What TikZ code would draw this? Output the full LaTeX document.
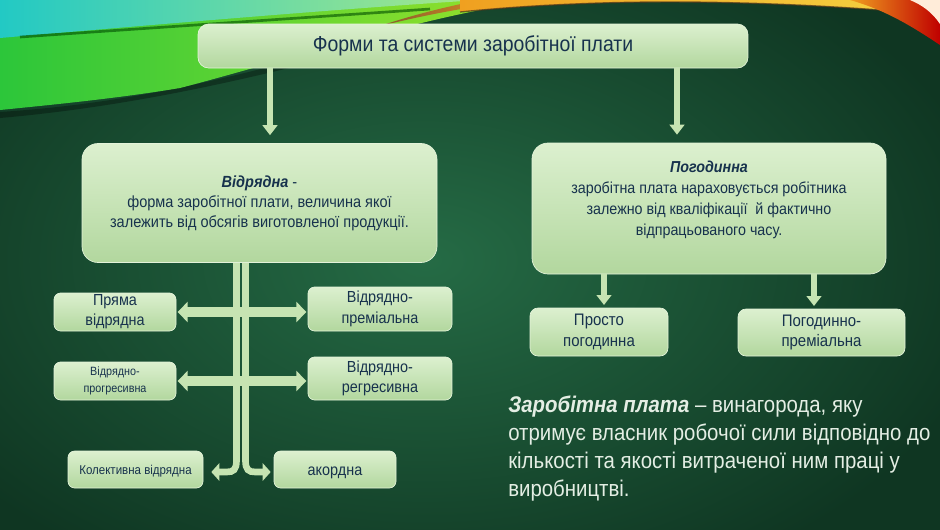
\documentclass[tikz,border=0pt]{standalone}
\usepackage{fontspec}
\setmainfont{Liberation Sans}[FakeStretch=0.9]
\usetikzlibrary{arrows.meta,calc}
\definecolor{bgmid}{HTML}{256B45}
\definecolor{bgdark}{HTML}{0F3622}
\definecolor{boxtop}{HTML}{DCF0CF}
\definecolor{boxbot}{HTML}{B2D79E}
\definecolor{boxedge}{HTML}{E4F3DA}
\definecolor{navy}{HTML}{17324D}
\definecolor{arr}{HTML}{C6E4B2}
\definecolor{lighttext}{HTML}{E4EEE4}
\definecolor{gA}{HTML}{2CC63A}
\definecolor{gB}{HTML}{8EE02C}
\definecolor{cA}{HTML}{22C9C4}
\definecolor{cB}{HTML}{A8E88A}
\definecolor{oA}{HTML}{F0A020}
\definecolor{oB}{HTML}{F5D040}
\tikzset{
  box/.style={rounded corners=#1, top color=boxtop, bottom color=boxbot, draw=boxedge, line width=0.5pt, text=navy, align=center, inner sep=0pt},
  box/.default=8pt,
  lower/.style={execute at begin node={\rule{0pt}{0.97em}}},
  vtxt/.style={text=navy, align=center},
  downarrow/.style={draw=arr, line width=4.5pt, -{Triangle[width=11pt,length=7.5pt]}},
  harrow/.style={draw=arr, line width=7pt, {Triangle[width=15pt,length=7.5pt]}-{Triangle[width=15pt,length=7.5pt]}},
  trunk/.style={draw=arr, line width=5pt, -{Triangle[width=13pt,length=6pt]}},
}
\begin{document}
\begin{tikzpicture}[x=0.75pt,y=-0.75pt]
\useasboundingbox (0,0) rectangle (940,529);
% background
\fill[bgdark] (0,0) rectangle (940,529);
\shade[inner color=bgmid, outer color=bgdark] (-150,-100) rectangle (1000,620);
% top-left swoosh
\fill[black, opacity=0.3] (0,112) .. controls (120,104) and (230,82) .. (420,24) -- (420,34) .. controls (300,66) and (160,104) .. (0,118) -- cycle;
\shade[left color=gA, right color=gB] (0,20) .. controls (150,15) and (350,5) .. (480,0) -- (480,10) .. controls (380,30) and (250,70) .. (180,88) .. controls (120,98) and (60,104) .. (0,110) -- cycle;
\shade[left color=cA, right color=cB] (0,0) -- (480,0) .. controls (350,8) and (150,25) .. (0,38) -- cycle;
\draw[black!70!green, line width=2pt, opacity=0.6] (20,37) .. controls (150,28) and (300,18) .. (430,9);
\shade[left color=brown!70!black, right color=oA] (380,26) .. controls (430,14) and (470,6) .. (530,0) -- (480,0) .. controls (440,8) and (410,16) .. (380,26) -- cycle;
% top band and top-right swoosh
\shade[left color=oA, right color=oB] (460,0) -- (900,0) -- (880,10) .. controls (800,4) and (700,0) .. (600,3) .. controls (540,5) and (500,8) .. (460,12) -- cycle;
\draw[black!60!brown, line width=1pt, opacity=0.7] (460,12) .. controls (500,8) and (540,5) .. (600,3) .. controls (700,0) and (800,4) .. (880,10);
\shade[left color=oA, right color=red!75!black] (850,0) -- (940,0) -- (940,45) .. controls (910,25) and (885,10) .. (850,0) -- cycle;
\fill[orange!15!white] (910,0) -- (940,0) -- (940,24) .. controls (932,12) and (922,5) .. (910,0) -- cycle;

% boxes
\node[box] (top) at (473,46) [minimum width=412.5pt, minimum height=33pt, font=\fontsize{16.2}{19}\selectfont] {Форми та системи заробітної плати};
\node[box=12pt] (lb) at (259.5,203) [minimum width=266.25pt, minimum height=89.25pt, font=\fontsize{12.1}{15}\selectfont] {\textbf{\textit{Відрядна}} -\\форма заробітної плати, величина якої\\залежить від обсягів виготовленої продукції.};
\node[box=12pt] (rb) at (709,208.5) [minimum width=265.5pt, minimum height=98.25pt] {};
\node[vtxt, font=\fontsize{11.9}{15.8}\selectfont] (rbt) at (709,200) {\textbf{\textit{Погодинна}}\\заробітна плата нараховується робітника\\залежно від кваліфікації~ й фактично\\відпрацьованого часу.};
\node[box=6pt, lower] (pp) at (599,332) [minimum width=103.5pt, minimum height=36pt, font=\fontsize{12.5}{15.5}\selectfont] {Просто\\погодинна};
\node[box=6pt, lower] (pg) at (821.5,332.5) [minimum width=125.25pt, minimum height=35.25pt, font=\fontsize{12.5}{15.5}\selectfont] {Погодинно-\\преміальна};
\node[box=5pt, lower] (pr) at (115,312) [minimum width=91.5pt, minimum height=28.5pt, font=\fontsize{12}{15}\selectfont] {Пряма\\відрядна};
\node[box=5pt, lower] (vp) at (380,309) [minimum width=108pt, minimum height=33pt, font=\fontsize{12}{15.5}\selectfont] {Відрядно-\\преміальна};
\node[box=5pt, lower] (vpr) at (115,381) [minimum width=91.5pt, minimum height=28.5pt, font=\fontsize{9}{12.5}\selectfont] {Відрядно-\\прогресивна};
\node[box=5pt, lower] (vr) at (380,378.5) [minimum width=108pt, minimum height=32.25pt, font=\fontsize{12}{15.5}\selectfont] {Відрядно-\\регресивна};
\node[box=5pt, lower] (kv) at (135.5,469.5) [minimum width=101.25pt, minimum height=27.75pt, font=\fontsize{9.6}{12}\selectfont] {Колективна відрядна};
\node[box=5pt, lower] (ak) at (335,469.5) [minimum width=91.5pt, minimum height=27.75pt, font=\fontsize{12}{14}\selectfont] {акордна};

% arrows from top box
\coordinate (a1) at ($(top.south)+(-203,0)$);
\coordinate (a2) at ($(top.south)+(204,0)$);
\draw[downarrow, shorten >=6pt] (a1) -- (a1 |- lb.north);
\draw[downarrow, shorten >=6pt] (a2) -- (a2 |- rb.north);
% arrows from right box
\coordinate (b1) at ($(rb.south)+(-105,0)$);
\coordinate (b2) at ($(rb.south)+(105,0)$);
\draw[downarrow, shorten >=2pt] (b1) -- (b1 |- pp.north);
\draw[downarrow, shorten >=2pt] (b2) -- (b2 |- pg.north);
% horizontal arrows
\draw[harrow, shorten <=1pt, shorten >=1pt] (pr.east) -- (pr.east -| vp.west);
\draw[harrow, shorten <=1pt, shorten >=1pt] (vpr.east) -- (vpr.east -| vr.west);
% trunk
\coordinate (tL) at ($(lb.south)+(-23,0)$);
\coordinate (tR) at ($(lb.south)+(-14,0)$);
\coordinate (eL) at ($(kv.east)+(8,2.5)$);
\coordinate (eR) at ($(ak.west)+(-3,2.5)$);
\draw[trunk] (tL) -- ($(tL |- eL)+(0,-12)$) .. controls ($(tL |- eL)+(0,-2)$) and ($(tL |- eL)+(-3,0)$) .. ($(tL |- eL)+(-10,0)$) -- (eL);
\draw[trunk] (tR) -- ($(tR |- eR)+(0,-12)$) .. controls ($(tR |- eR)+(0,-2)$) and ($(tR |- eR)+(3,0)$) .. ($(tR |- eR)+(10,0)$) -- (eR);

% definition text
\node[text=lighttext, align=left, anchor=north west, inner sep=0pt, font=\fontsize{17}{21}\selectfont] (def) at (508,396) {\textbf{\textit{Заробітна плата}} – винагорода, яку\\отримує власник робочої сили відповідно до\\кількості та якості витраченої ним праці у\\виробництві.};
\end{tikzpicture}
\end{document}
